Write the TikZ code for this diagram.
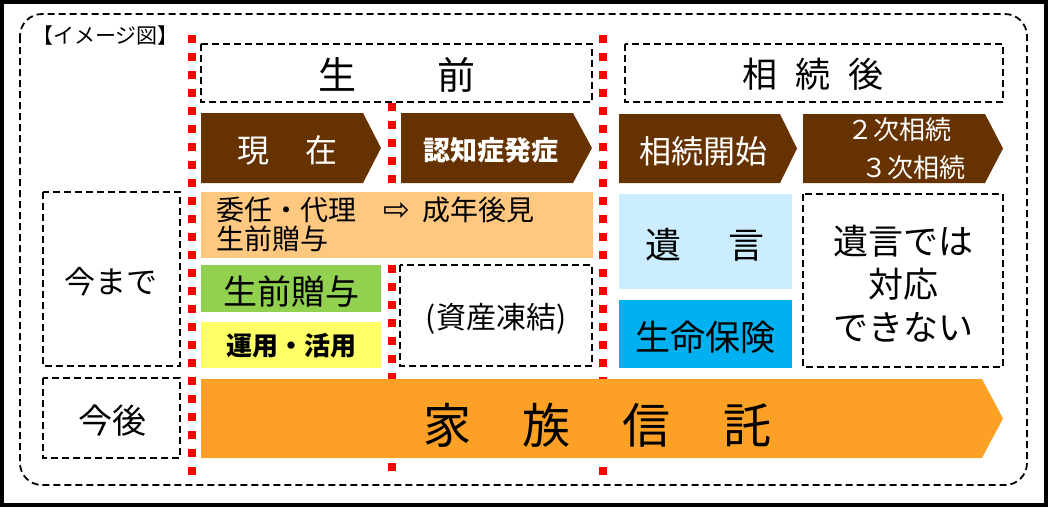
\documentclass[tikz,border=0pt]{standalone}
\usepackage{fontspec}
\setmainfont{Noto Sans CJK JP}
\newfontfamily\arrowfont{DejaVu Sans}
\definecolor{chestnut}{RGB}{102,51,0}
\definecolor{peach}{RGB}{255,200,128}
\definecolor{leaf}{RGB}{146,208,80}
\definecolor{lemon}{RGB}{255,255,102}
\definecolor{sky}{RGB}{204,236,255}
\definecolor{ocean}{RGB}{0,176,240}
\definecolor{tangerine}{RGB}{252,161,38}
\newcommand{\fsz}[2]{\fontsize{#1}{#2}\selectfont}
\tikzset{
  dbox/.style  = {draw, line width=1.8pt, dash pattern=on 7pt off 4pt},
  redline/.style = {draw=red, line width=8pt, dash pattern=on 8pt off 10pt},
  wtxt/.style  = {text=white, inner sep=0pt},
  btxt/.style  = {text=black, inner sep=0pt}
}

\begin{document}
\begin{tikzpicture}[x=1pt,y=-1pt]
\useasboundingbox (0,0) rectangle (1048,507);
\draw[line width=4pt] (2,2) rectangle (1046,505); % outer frame
\draw[dbox, rounded corners=22pt] (20,14) rectangle (1027,485);
\node[btxt, anchor=west, font=\fsz{21}{21}] (title) at (32,36) {【イメージ図】};

% time borders
\draw[redline] (191.5,35) -- (191.5,476);
\draw[redline] (391.5,103) -- (391.5,474);
\draw[redline] (602.5,35) -- (602.5,476);

% headers
\draw[dbox] (201,44) rectangle (592,102);
\node[btxt, font=\fsz{38}{38}] (mae) at (397,75) {生\hspace{81pt}前};
\draw[dbox] (625,44) rectangle (1003,102);
\node[btxt, font=\fsz{35}{35}] (ato) at (813,74) {相\hspace{18pt}続\hspace{18pt}後};

% stages
\fill[chestnut] (201,113) -- (363,113) -- (381,148) -- (363,183) -- (201,183) -- cycle;
\node[wtxt, font=\fsz{32}{32}] (genzai) at (287,150) {現\hspace{36pt}在};
\fill[chestnut] (401,113) -- (573,113) -- (592,148) -- (573,183) -- (401,183) -- cycle;
\node[wtxt, font=\fsz{27}{27}\bfseries] (ninchi) at (491,150) {認知症発症};
\fill[chestnut] (619,114) -- (780,114) -- (797,148.5) -- (780,183) -- (619,183) -- cycle;
\node[wtxt, font=\fsz{32}{32}] (kaishi) at (703,151) {相続開始};
\fill[chestnut] (803,114) -- (985,114) -- (1003,148.5) -- (985,183) -- (803,183) -- cycle;
\node[wtxt, align=left, font=\fsz{26}{38}] (niji) at (906,149) {２次相続\\\hspace{14pt}３次相続};

% until now
\draw[dbox] (43,192) rectangle (180,366);
\node[btxt, font=\fsz{31}{31}] (imamade) at (111,282) {今まで};
\fill[peach] (201,192) rectangle (593,258);
\node[btxt, anchor=west, align=left, font=\fsz{28}{29}] (inin) at (216,224)
  {委任・代理\hspace{27pt}\smash{\arrowfont\fsz{32}{29}⇨}\hspace{12pt}成年後見\\生前贈与};
\fill[leaf] (201,265) rectangle (381,312);
\node[btxt, font=\fsz{34}{34}] (zoyo) at (291,292) {生前贈与};
\fill[lemon] (201,322) rectangle (381,368);
\node[btxt, font=\fsz{26}{26}\bfseries] (unyo) at (291,346) {運用・活用};
\draw[dbox] (400,265) rectangle (592,366);
\node[btxt, font=\fsz{30}{30}] (toketsu) at (496,319) {(資産凍結)};
\fill[sky] (619,194) rectangle (792,289);
\node[btxt, font=\fsz{36}{36}] (yuigon) at (705,245) {遺\hspace{47pt}言};
\fill[ocean] (619,300) rectangle (792,368);
\node[btxt, font=\fsz{35}{35}] (hoken) at (705,337) {生命保険};
\draw[dbox] (803,194) rectangle (1003,367);
\node[btxt, align=center, font=\fsz{35}{43}] (dekinai) at (903,284) {遺言では\\対応\\できない};

% from now on
\draw[dbox] (43,378) rectangle (180,458);
\node[btxt, font=\fsz{34}{34}] (kongo) at (112,421) {今後};
\fill[tangerine] (201,379) -- (982,379) -- (1003,418.5) -- (982,458) -- (201,458) -- cycle;
\node[btxt, font=\fsz{48}{48}] (shintaku) at (597,425) {家\hspace{52pt}族\hspace{52pt}信\hspace{52pt}託};
\end{tikzpicture}
\end{document}
